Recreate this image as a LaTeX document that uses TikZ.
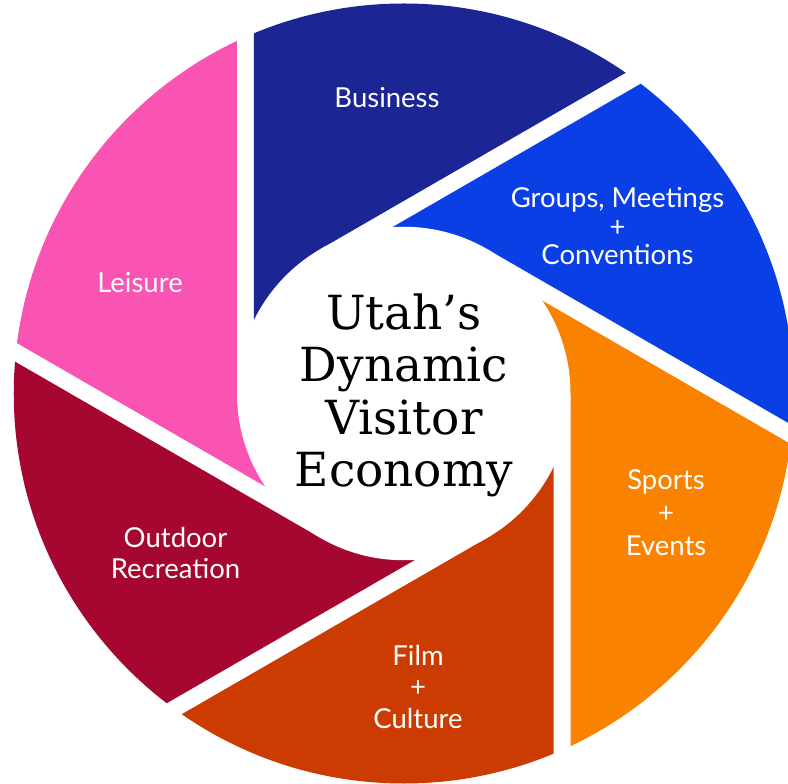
\documentclass[tikz,border=0pt]{standalone}
\usepackage{fontspec}
\setmainfont{Lato}
\newfontfamily\hubfont{DejaVu Serif}
\usetikzlibrary{calc}

% segment colours
\definecolor{business}{HTML}{1C2594}
\definecolor{groups}{HTML}{0B3FE6}
\definecolor{sports}{HTML}{F98200}
\definecolor{film}{HTML}{CC3C02}
\definecolor{outdoor}{HTML}{A50731}
\definecolor{leisure}{HTML}{F953B3}

\begin{document}
\begin{tikzpicture}[x=1bp,y=1bp,
  seglabel/.style={text=white,font=\fontsize{27.5bp}{31bp}\selectfont,anchor=base,inner sep=0pt},
  hubtext/.style={text=black,font=\hubfont\fontsize{47bp}{52bp}\selectfont,anchor=base,inner sep=0pt}]
  % near and far edges of each white gap, outer rim, length of the blade rays
  \def\dn{149.75}
  \def\df{166.75}
  \def\rim{390}
  \def\far{700}
  \useasboundingbox (-403.75,-390.5) rectangle (384.25,393.5);

  % aperture blades: each lies between the near edge of one gap and the far edge of the next
  \begin{scope}
    \clip (0,0) circle[radius=\rim];
    \foreach \a/\col in {180/business,120/groups,60/sports,0/film,-60/outdoor,-120/leisure}{
      \pgfmathsetmacro\b{\a-60}
      \pgfmathsetmacro\ra{\a-90}
      \pgfmathsetmacro\rb{\a-150}
      \fill[\col] (0,0) -- (\a:\dn) -- ($(\a:\dn)+(\ra:\far)$)
        -- ($(\b:\df)+(\rb:\far)$) -- (\b:\df) -- cycle;
    }
    % central opening
    \fill[white] (0,0) circle[radius=\df];
  \end{scope}

  % segment labels
  \node[seglabel] (bus) at (-16.75,285.5) {Business};

  \node[seglabel] (grpA) at (213.75,185.5) {Groups, Meetings};
  \node[seglabel] (grpB) at (213.75,157) {+};
  \node[seglabel] (grpC) at (213.75,128.5) {Conventions};

  \node[seglabel] (spoA) at (262.25,-95.5) {Sports};
  \node[seglabel] (spoB) at (262.25,-128.5) {+};
  \node[seglabel] (spoC) at (262.25,-161.5) {Events};

  \node[seglabel] (filA) at (14.25,-271.5) {Film};
  \node[seglabel] (filB) at (14.25,-303) {+};
  \node[seglabel] (filC) at (14.25,-334.5) {Culture};

  \node[seglabel] (outA) at (-228.25,-153.5) {Outdoor};
  \node[seglabel] (outB) at (-228.25,-184.5) {Recreation};

  \node[seglabel] (lei) at (-263.75,100.5) {Leisure};

  % centre title
  \node[hubtext] (hubA) at (0.25,63.5) {Utah’s};
  \node[hubtext] (hubB) at (0.25,11.5) {Dynamic};
  \node[hubtext] (hubC) at (0.25,-41.5) {Visitor};
  \node[hubtext] (hubD) at (0.25,-92.5) {Economy};
\end{tikzpicture}
\end{document}
